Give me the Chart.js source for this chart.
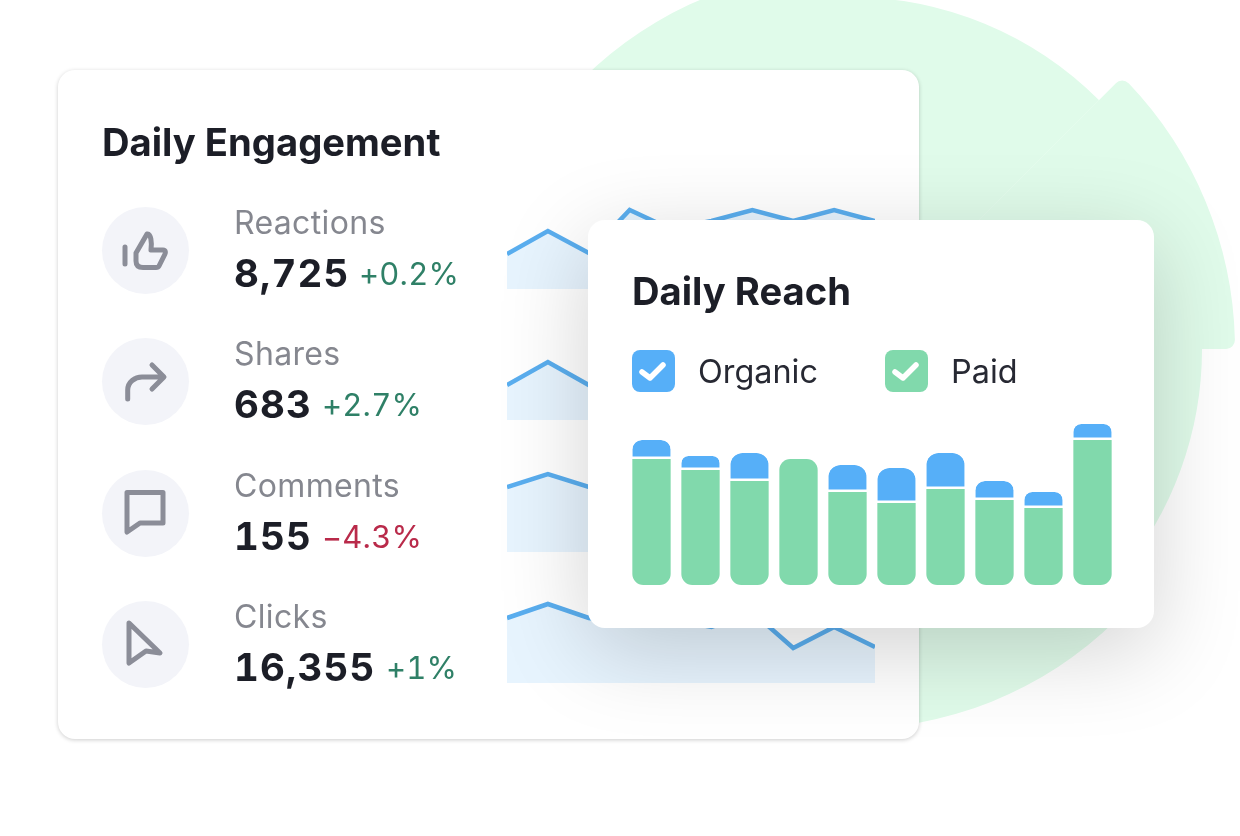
<!DOCTYPE html>
<html>
<head>
<meta charset="utf-8">
<title>Daily Engagement</title>
<script src="https://cdn.jsdelivr.net/npm/chart.js@4"></script>
<style>
html, body { margin: 0; padding: 0; background: #fff; }
body { position: relative; width: 1240px; height: 836px; overflow: hidden; font-family: Inter, sans-serif; }
.card { position: absolute; background: #fff; border-radius: 17px; box-sizing: border-box; }
#card1 { left: 58px; top: 70px; width: 861px; height: 669px; box-shadow: 0 1px 4px rgba(0,0,0,.2); }
#card2 { left: 588px; top: 220px; width: 566px; height: 408px; box-shadow: 0 22px 90px rgba(0,0,0,.18); }
.title { position: absolute; font-weight: 700; font-size: 38.2px; color: #1c1e27; line-height: 44px; white-space: nowrap; }
.label { position: absolute; left: 234px; font-size: 32px; letter-spacing: .35px; line-height: 38px; color: #85878f; white-space: nowrap; }
.value { position: absolute; font-size: 38.5px; line-height: 46px; font-weight: 700; color: #1c1e27; letter-spacing: 1.1px; font-variant-numeric: tabular-nums; white-space: nowrap; }
.pct { position: absolute; font-size: 31px; line-height: 46px; letter-spacing: .2px; font-variant-numeric: tabular-nums; white-space: nowrap; }
.icon { position: absolute; left: 102px; width: 87px; height: 87px; border-radius: 50%; background: #f3f4f9; }
.icon svg { position: absolute; left: 0; top: 0; fill: none; stroke: #8b8d98; stroke-width: 5; stroke-linecap: round; stroke-linejoin: round; }
.box { position: absolute; top: 350px; width: 43px; height: 42px; border-radius: 8px; }
.box svg { position: absolute; left: 0; top: 0; fill: none; stroke: #fff; stroke-width: 5.5; stroke-linecap: round; stroke-linejoin: round; }
.legend { position: absolute; top: 353px; font-size: 32.4px; line-height: 38px; color: #272933; white-space: nowrap; }
canvas { position: absolute; }
</style>
</head>
<body>
<div id="blobs"></div>

<div class="card" id="card1"></div>
<div class="title" style="left:102px;top:120px">Daily Engagement</div>
<div id="rows"></div>

<div class="card" id="card2"></div>
<div class="title" style="left:632px;top:269px">Daily Reach</div>
<div class="box" style="left:632px;background:#56aff8"><svg width="43" height="42"><path d="M10 22 L18 28 L31 15"/></svg></div>
<div class="legend" style="left:698px">Organic</div>
<div class="box" style="left:885px;background:#81d9ac"><svg width="43" height="42"><path d="M10 22 L18 28 L31 15"/></svg></div>
<div class="legend" style="left:951px">Paid</div>
<canvas id="reach" width="490" height="170" style="left:626.5px;top:415px;width:490px;height:170px"></canvas>

<script>
// backdrop pie, clockwise from 12 o'clock
const blobSlices = [45, 45, 40, 230];
const blobColor = '#e0fbea';

// sparklines, 10 days each
const rowNames = ['Reactions', 'Shares', 'Comments', 'Clicks'];
const rowValues = ['8,725', '683', '155', '16,355'];
const rowChanges = ['+0.2%', '+2.7%', '\u22124.3%', '+1%'];
const reactions = [35, 58, 36, 79, 60, 68, 79, 68, 79, 68];
const shares = [35, 58, 35, 62, 48, 60, 70, 58, 66, 52];
const comments = [65, 78, 65, 72, 58, 70, 62, 74, 60, 68];
const clicks = [65, 79, 65, 60, 64, 56, 71, 35, 56, 36];

// daily reach
const days = ['1', '2', '3', '4', '5', '6', '7', '8', '9', '10'];
const paid = [126, 115, 104, 126, 93, 82, 96, 85, 77, 145];
const organic = [19, 14, 28, 0, 27, 35, 36, 19, 16, 16];

Chart.defaults.animation = false;
Chart.defaults.responsive = false;
Chart.defaults.plugins.legend.display = false;
Chart.defaults.plugins.tooltip.enabled = false;

function addCanvas(parent, left, top, w, h) {
    const c = document.createElement('canvas');
    c.width = w;
    c.height = h;
    c.style.cssText = `left:${left}px;top:${top}px;width:${w}px;height:${h}px`;
    parent.appendChild(c);
    return c;
}

// the backdrop is a pie whose slices have different radii, so one chart per radius
const blobHost = document.getElementById('blobs');
const blobCx = 850, blobCy = 349;
[
    { r: 352, on: [0, 1, 2, 3], radius: 0 },
    { r: 380, on: [3], radius: 0 },
    { r: 385, on: [1], radius: 9 }
].forEach(layer => {
    const c = addCanvas(blobHost, blobCx - layer.r, blobCy - layer.r, layer.r * 2, layer.r * 2);
    new Chart(c, {
        type: 'pie',
        data: {
            labels: blobSlices.map((s, i) => 'slice ' + i),
            datasets: [{
                data: blobSlices,
                backgroundColor: blobSlices.map((s, i) => layer.on.includes(i) ? blobColor : 'transparent'),
                borderWidth: 0,
                borderRadius: layer.radius
            }]
        }
    });
});

// metric rows
const rowsHost = document.getElementById('rows');
const rowTops = [207, 338, 470, 601];
const valueLefts = [234, 234, 234, 234];
const pctLefts = [359, 322, 322, 386];
const pctColors = ['#2f8067', '#2f8067', '#b92a4a', '#2f8067'];
const iconPaths = [
    'M23 40 V57 M34 46 L45 27 C49 26 50 36 49 43 L61 43 C64 43 63.5 46 63 47 L57 59 C56.5 60 56 60.5 54 60.5 L41 60.5 C36 60.5 34 58 34 54 Z',
    'M25.7 61 L25.7 52 C25.7 44 33 39 40 39 L61 39 M50 27 L62 39 L50 51',
    'M25 22.5 L61 22.5 L61 53 L38 53 L25 62 Z',
    'M27 22 L58 52 L44 50 L27 62 Z'
];
const sparks = [reactions, shares, comments, clicks];

rowNames.forEach((name, i) => {
    const top = rowTops[i];
    rowsHost.insertAdjacentHTML('beforeend',
        `<div class="icon" style="top:${top}px"><svg width="87" height="87"><path d="${iconPaths[i]}"/></svg></div>` +
        `<div class="label" style="top:${top - 3}px">${name}</div>` +
        `<div class="value" style="left:${valueLefts[i]}px;top:${top + 43}px">${rowValues[i]}</div>` +
        `<div class="pct" style="left:${pctLefts[i]}px;top:${top + 44}px;color:${pctColors[i]}">${rowChanges[i]}</div>`);

    const c = addCanvas(rowsHost, 507, top - 2, 368, 84);
    new Chart(c, {
        type: 'line',
        data: {
            labels: days,
            datasets: [{
                data: sparks[i],
                borderColor: '#5aaeef',
                borderWidth: 4.5,
                borderJoinStyle: 'miter',
                backgroundColor: 'rgba(86,175,248,0.14)',
                fill: 'origin',
                pointRadius: 0,
                tension: 0
            }]
        },
        options: {
            layout: { padding: 0 },
            scales: {
                x: { display: false, offset: false },
                y: { display: false, min: 0, max: 84 }
            }
        }
    });
});

// stacked bars, the white bottom border on organic makes the gap over paid
new Chart(document.getElementById('reach'), {
    type: 'bar',
    data: {
        labels: days,
        datasets: [
            {
                label: 'Paid',
                data: paid,
                backgroundColor: '#81d9ac',
                borderWidth: 0,
                borderSkipped: false,
                borderRadius: ctx => {
                    const top = organic[ctx.dataIndex] === 0 ? 11 : 0;
                    return { topLeft: top, topRight: top, bottomLeft: 11, bottomRight: 11 };
                }
            },
            {
                label: 'Organic',
                data: organic,
                backgroundColor: '#56aff8',
                borderColor: '#ffffff',
                borderWidth: { bottom: 2.5 },
                borderSkipped: false,
                borderRadius: { topLeft: 12, topRight: 12, bottomLeft: 0, bottomRight: 0 }
            }
        ]
    },
    options: {
        layout: { padding: 0 },
        datasets: { bar: { categoryPercentage: 1, barPercentage: 0.782 } },
        scales: {
            x: { display: false, stacked: true },
            y: { display: false, stacked: true, min: 0, max: 170 }
        }
    }
});
</script>
</body>
</html>
